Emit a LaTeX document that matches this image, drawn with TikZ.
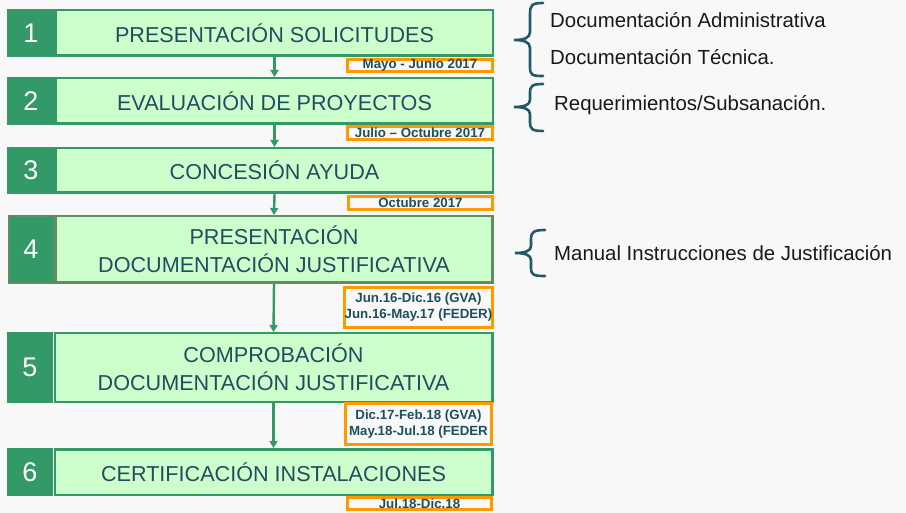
\documentclass[tikz,border=0pt]{standalone}
\usepackage{fontspec}
\setmainfont{Liberation Sans}
\usetikzlibrary{arrows.meta}
\definecolor{bg}{HTML}{F8F8F8}
\definecolor{dgreen}{HTML}{339966}
\definecolor{ogreen}{HTML}{5E8F5E}
\definecolor{lgreen}{HTML}{CCFFCC}
\definecolor{teal}{HTML}{1F4E5F}
\definecolor{bracec}{HTML}{1F5A66}
\definecolor{orng}{HTML}{FF9900}
\tikzset{
  numsq/.style={fill=dgreen, text=white, inner sep=0, minimum width=48pt,
    font=\fontsize{27}{30}\selectfont},
  titlebox/.style={fill=lgreen, draw=dgreen, line width=2.5pt, inner sep=0,
    minimum width=437pt, text=teal, align=center,
    font=\fontsize{21.6}{28}\selectfont},
  datebox/.style={draw=orng, line width=2.8pt, inner sep=0, minimum width=146pt,
    text=teal, align=center, font=\bfseries\fontsize{13.3}{16}\selectfont},
  arr/.style={draw=dgreen, line width=2.4pt, -{Triangle[length=7pt,width=8pt]}},
  brace/.style={draw=bracec, line width=2.6pt, line cap=round},
  side/.style={anchor=base west, text=black!90, inner sep=0,
    font=\fontsize{20.4}{24}\selectfont}
}
\begin{document}
\begin{tikzpicture}[x=1pt,y=-1pt]
\fill[bg] (0,0) rectangle (906,513);
\useasboundingbox (0,0) rectangle (906,513);
% step 1
\node[numsq, minimum height=48pt] (n1) at (31,33) {1};
\node[titlebox, minimum height=45.5pt] (t1) at (274.5,33) {PRESENTACIÓN SOLICITUDES};
\node[datebox, minimum height=12.5pt, minimum width=145.5pt] (d1) at (420,65.5) {Mayo - Junio 2017};
% step 2
\node[numsq, minimum height=48pt] (n2) at (31,101) {2};
\node[titlebox, minimum height=45.5pt] (t2) at (274.5,101) {EVALUACIÓN DE PROYECTOS};
\node[datebox, minimum height=13.5pt, minimum width=145.5pt] (d2) at (420,133) {Julio – Octubre 2017};
% step 3
\node[numsq, minimum height=47pt] (n3) at (31,170.5) {3};
\node[titlebox, minimum height=44.5pt] (t3) at (274.5,170.5) {CONCESIÓN AYUDA};
\node[datebox, minimum height=13.5pt, minimum width=144.5pt] (d3) at (420.5,203) {Octubre 2017};
% step 4
\node[numsq, minimum height=67pt, minimum width=45pt, draw=ogreen, line width=2pt] (n4) at (31,249.5) {4};
\node[titlebox, draw=ogreen, minimum height=66.5pt, minimum width=436.5pt] (t4) at (274,249.5) {PRESENTACIÓN\\DOCUMENTACIÓN JUSTIFICATIVA};
\node[datebox, minimum height=40.5pt, minimum width=146.5pt] (d4) at (418.5,307.5) {Jun.16-Dic.16 (GVA)\\Jun.16-May.17 (FEDER)};
% step 5
\node[numsq, minimum height=71pt, minimum width=46pt] (n5) at (30,367.5) {5};
\node[titlebox, minimum height=68.5pt, minimum width=437.5pt] (t5) at (273.5,367.5) {COMPROBACIÓN\\DOCUMENTACIÓN JUSTIFICATIVA};
\node[datebox, minimum height=41.5pt, minimum width=146.5pt] (d5) at (418.5,424) {Dic.17-Feb.18 (GVA)\\May.18-Jul.18 (FEDER};
% step 6
\node[numsq, minimum height=48pt, minimum width=46pt] (n6) at (30,472) {6};
\node[titlebox, minimum height=45.5pt, minimum width=437.5pt] (t6) at (273.5,472) {CERTIFICACIÓN INSTALACIONES};
\node[datebox, minimum height=12.5pt, minimum width=144.5pt] (d6) at (419.5,503.5) {Jul.18-Dic.18};
% arrows
\draw[arr] (t1.south) -- (t2.north);
\draw[arr] (t2.south) -- (t3.north);
\draw[arr] (t3.south) -- (t4.north);
\draw[arr] (t4.south) -- (t5.north);
\draw[arr] (t5.south) -- (t6.north);
% braces
\draw[brace] (543,3) .. controls (532,3) and (530,5) .. (530,14) -- (530,32)
  .. controls (530,38) and (524,40) .. (514,40)
  .. controls (524,40) and (530,42) .. (530,48) -- (530,67)
  .. controls (530,75) and (532,76) .. (543,76);
\draw[brace] (543,84) .. controls (532,84) and (530,86) .. (530,93) -- (530,100)
  .. controls (530,105) and (524,107) .. (514,107)
  .. controls (524,107) and (530,109) .. (530,114) -- (530,122)
  .. controls (530,129) and (532,131) .. (543,131);
\draw[brace] (545,230) .. controls (534,230) and (531,232) .. (531,239) -- (531,246)
  .. controls (531,251) and (525,253) .. (515,253)
  .. controls (525,253) and (531,255) .. (531,260) -- (531,268)
  .. controls (531,275) and (534,276) .. (545,276);
% side texts
\node[side] (s1) at (550,28) {Documentación Administrativa};
\node[side] (s2) at (550,65) {Documentación Técnica.};
\node[side] (s3) at (554,111) {Requerimientos/Subsanación.};
\node[side] (s4) at (554,261) {Manual Instrucciones de Justificación};
\end{tikzpicture}
\end{document}
